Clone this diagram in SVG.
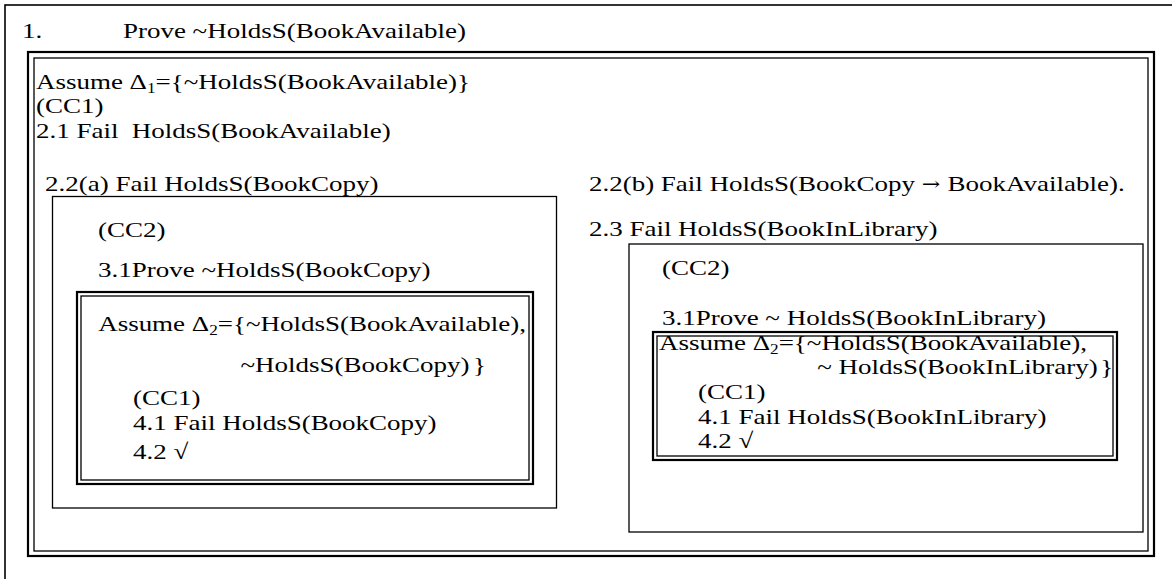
<svg xmlns="http://www.w3.org/2000/svg" width="1172" height="579" viewBox="0 0 1172 579">
<style>
.t{font-family:"Liberation Serif","Times New Roman",serif;font-size:22px;fill:#000}
.arr{font-family:"DejaVu Serif",serif;font-size:18px}
.thin{fill:none;stroke:#000;stroke-width:1.3}
.thick{fill:none;stroke:#000;stroke-width:2.2}
.page{fill:none;stroke:#000;stroke-width:1.6}
</style>
<rect width="1172" height="579" fill="#fff"/>
<g id="page">
<rect class="page" x="5" y="5" width="1200" height="620"/>
</g>
<g id="outer-box">
<rect class="thick" x="28" y="52" width="1126" height="504"/>
<rect class="thin" x="34" y="58" width="1114" height="493"/>
</g>
<g id="left-cc2-box">
<rect class="thin" x="52.5" y="196.5" width="504" height="311.5"/>
</g>
<g id="left-assume-box">
<rect class="thick" x="77" y="292" width="456" height="192"/>
<rect class="thin" x="81" y="296" width="448" height="184"/>
</g>
<g id="right-cc2-box">
<rect class="thin" x="629" y="244" width="514" height="288"/>
</g>
<g id="right-assume-box">
<rect class="thick" x="653" y="332" width="464" height="128"/>
<rect class="thin" x="657" y="336" width="456" height="120"/>
</g>
<g id="connectors"/>
<g id="texts" transform="scale(1.227,1)">
<text class="t" x="17.9" y="38">1.</text>
<text class="t" x="100.2" y="38">Prove ~HoldsS(BookAvailable)</text>
<text class="t" x="29.3" y="89">Assume Δ<tspan font-size="14" dy="4">1</tspan><tspan dy="-4">={~HoldsS(BookAvailable)}</tspan></text>
<text class="t" x="29.3" y="113">(CC1)</text>
<text class="t" x="29.3" y="138">2.1 Fail&#160; HoldsS(BookAvailable)</text>
<text class="t" x="36.7" y="191">2.2(a) Fail HoldsS(BookCopy)</text>
<text class="t" x="480" y="191">2.2(b) Fail HoldsS(BookCopy <tspan class="arr" dy="-1">→</tspan><tspan dx="6" dy="1">BookAvailable).</tspan></text>
<text class="t" x="480" y="236">2.3 Fail HoldsS(BookInLibrary)</text>
<text class="t" x="79.9" y="237">(CC2)</text>
<text class="t" x="79.9" y="277">3.1Prove ~HoldsS(BookCopy)</text>
<text class="t" x="80" y="331">Assume Δ<tspan font-size="14" dy="4">2</tspan><tspan dy="-4">={~HoldsS(BookAvailable),</tspan></text>
<text class="t" x="196" y="372">~HoldsS(BookCopy)<tspan dx="3">}</tspan></text>
<text class="t" x="108.4" y="405">(CC1)</text>
<text class="t" x="108.4" y="430">4.1 Fail HoldsS(BookCopy)</text>
<text class="t" x="108.4" y="459">4.2 √</text>
<text class="t" x="539.5" y="275">(CC2)</text>
<text class="t" x="539.5" y="325">3.1Prove ~ HoldsS(BookInLibrary)</text>
<text class="t" x="537.1" y="350">Assume Δ<tspan font-size="14" dy="4">2</tspan><tspan dy="-4">={~HoldsS(BookAvailable),</tspan></text>
<text class="t" x="666" y="374">~ HoldsS(BookInLibrary)<tspan dx="2">}</tspan></text>
<text class="t" x="568.9" y="399">(CC1)</text>
<text class="t" x="568.9" y="424">4.1 Fail HoldsS(BookInLibrary)</text>
<text class="t" x="568.9" y="448">4.2 √</text>
</g>
</svg>
